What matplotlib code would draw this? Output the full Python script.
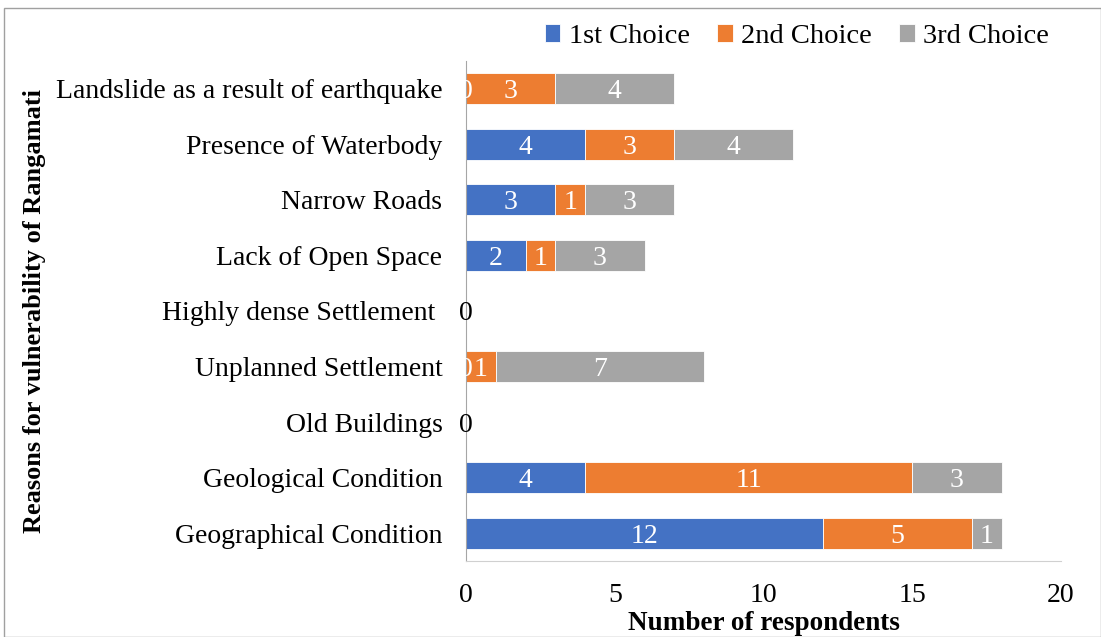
import matplotlib.pyplot as plt
from matplotlib.patches import Rectangle
import numpy as np

plt.rcParams['font.family'] = ['Liberation Serif', 'DejaVu Serif']

categories = ['Geographical Condition', 'Geological Condition', 'Old Buildings',
              'Unplanned Settlement', 'Highly dense Settlement ', 'Lack of Open Space',
              'Narrow Roads', 'Presence of Waterbody', 'Landslide as a result of earthquake']
first_choice = [12, 4, 0, 0, 0, 2, 3, 4, 0]
second_choice = [5, 11, 0, 1, 0, 1, 1, 3, 3]
third_choice = [1, 3, 0, 7, 0, 3, 3, 4, 4]
series_names = ['1st Choice', '2nd Choice', '3rd Choice']
colors = ['#4472C4', '#ED7D31', '#A5A5A5']

fig = plt.figure(figsize=(11.01, 6.37), dpi=100)
ax = fig.add_axes([466 / 1101, 1 - 561 / 637, 595 / 1101, 500 / 637])

y = np.arange(len(categories))
left = np.zeros(len(categories))
for name, vals, col in zip(series_names, [first_choice, second_choice, third_choice], colors):
    vals = np.array(vals, dtype=float)
    ax.barh(y, vals, left=left, height=0.56, color=col, label=name,
            edgecolor='white', linewidth=0.6)
    for i, v in enumerate(vals):
        if v == 0:
            continue
        ax.text(left[i] + v / 2, y[i], '%d' % v, ha='center', va='center_baseline',
                color='white', fontsize=20)
    left += vals

# zero labels
for i in range(len(categories)):
    row = [first_choice[i], second_choice[i], third_choice[i]]
    if sum(row) == 0:
        ax.text(0, y[i], '0', ha='center', va='center_baseline', color='black', fontsize=20)
    elif row[0] == 0:
        ax.text(0, y[i], '0', ha='center', va='center_baseline', color='white', fontsize=20)

ax.set_xlim(0, 20)
ax.set_ylim(-0.5, len(categories) - 0.5)
ax.set_yticks(y)
ax.set_yticklabels(categories, fontsize=20)
ax.set_xticks([0, 5, 10, 15, 20])
ax.tick_params(axis='x', labelsize=20, length=0, pad=16)
ax.tick_params(axis='y', length=0, pad=17)
for s in ['top', 'right']:
    ax.spines[s].set_visible(False)
ax.spines['left'].set_color('#A6A6A6')
ax.spines['bottom'].set_color('#D0D0D0')
ax.set_xlabel('Number of respondents', fontsize=19.5, fontweight='bold', labelpad=2)
ax.set_ylabel('Reasons for vulnerability of Rangamati', fontsize=19,
              fontweight='bold')
ax.yaxis.set_label_coords(-0.706, 0.5)

fig.legend(loc='upper right', bbox_to_anchor=(1066 / 1101, 1 - 7 / 637), ncol=3,
           frameon=False, fontsize=20.5, handlelength=0.55, handleheight=0.55,
           handletextpad=0.3, columnspacing=0.95, borderaxespad=0.2)

fig.patches.append(Rectangle((4 / 1101, 0), 1 - 4 / 1101, 1 - 8 / 637,
                             transform=fig.transFigure, fill=False,
                             edgecolor='#A0A0A0', linewidth=1))

fig.savefig('out.png', dpi=100)
